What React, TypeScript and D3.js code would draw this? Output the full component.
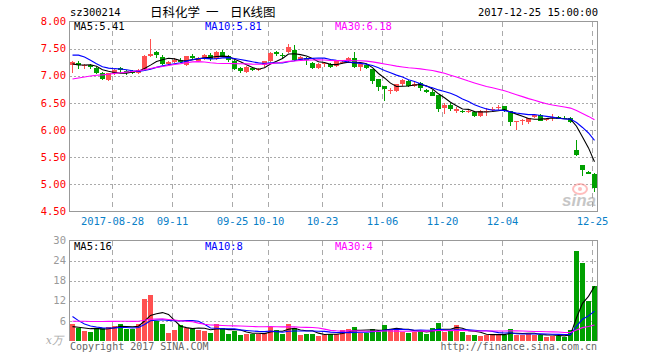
import React from 'react';
import * as d3 from 'd3';

const W = 660;
const H = 360;

const stockCode = 'sz300214';
const titleParts = ['日科化学', '一', '日K线图'];
const timestamp = '2017-12-25 15:00:00';

const firstDay = '2017-08-17';
const lastDay = '2017-12-25';
const holidays = ['2017-10-02', '2017-10-03', '2017-10-04', '2017-10-05', '2017-10-06'];
const tickDates = ['2017-08-28', '2017-09-11', '2017-09-25', '2017-10-10', '2017-10-23', '2017-11-06', '2017-11-20', '2017-12-04', '2017-12-25'];
const priceTicks = [8.0, 7.5, 7.0, 6.5, 6.0, 5.5, 5.0, 4.5];
const volumeTicks = [30, 24, 18, 12, 6];

const opens = [
  7.20, 7.23, 7.18, 7.19, 7.15, 7.05, 6.93, 7.06, 7.14, 7.08, 7.09, 7.06, 7.12, 7.36, 7.44, 7.35, 7.21, 7.25, 7.30, 7.19,
  7.37, 7.28, 7.31, 7.39, 7.31, 7.43, 7.36, 7.27, 7.14, 7.07, 7.14, 7.11, 7.19, 7.27, 7.43, 7.39, 7.44, 7.48, 7.30, 7.33,
  7.24, 7.15, 7.22, 7.21, 7.18, 7.24, 7.27, 7.32, 7.16, 7.20, 7.12, 6.94, 6.81, 6.72, 6.72, 6.84, 6.91, 6.82, 6.86, 6.73,
  6.71, 6.64, 6.41, 6.47, 6.36, 6.36, 6.34, 6.33, 6.26, 6.35, 6.37, 6.41, 6.44, 6.35, 6.15, 6.17, 6.14, 6.24, 6.28, 6.19,
  6.23, 6.25, 6.23, 6.23, 5.63, 5.35, 5.23, 5.20,
];
const highs = [
  7.27, 7.27, 7.22, 7.22, 7.17, 7.07, 7.06, 7.13, 7.16, 7.10, 7.10, 7.13, 7.38, 7.67, 7.46, 7.39, 7.28, 7.32, 7.32, 7.37,
  7.40, 7.34, 7.40, 7.42, 7.45, 7.47, 7.38, 7.29, 7.16, 7.18, 7.16, 7.15, 7.28, 7.44, 7.46, 7.42, 7.59, 7.56, 7.36, 7.35,
  7.25, 7.24, 7.26, 7.23, 7.28, 7.29, 7.35, 7.44, 7.23, 7.22, 7.13, 6.95, 6.82, 6.77, 6.85, 6.94, 6.92, 6.89, 6.88, 6.76,
  6.73, 6.65, 6.49, 6.49, 6.43, 6.37, 6.38, 6.36, 6.37, 6.41, 6.43, 6.47, 6.45, 6.36, 6.17, 6.21, 6.23, 6.29, 6.29, 6.23,
  6.29, 6.26, 6.26, 6.24, 5.81, 5.36, 5.25, 5.21,
];
const lows = [
  7.05, 7.13, 7.12, 7.13, 7.03, 6.92, 6.90, 7.02, 7.05, 7.02, 7.03, 7.04, 7.10, 7.34, 7.33, 7.20, 7.19, 7.23, 7.24, 7.18,
  7.29, 7.26, 7.29, 7.28, 7.30, 7.34, 7.26, 7.10, 7.05, 7.05, 7.08, 7.09, 7.17, 7.25, 7.37, 7.31, 7.42, 7.28, 7.28, 7.19,
  7.12, 7.13, 7.16, 7.15, 7.16, 7.22, 7.24, 7.14, 7.09, 7.13, 6.84, 6.72, 6.53, 6.67, 6.70, 6.82, 6.80, 6.79, 6.72, 6.68,
  6.62, 6.33, 6.30, 6.35, 6.32, 6.32, 6.31, 6.25, 6.25, 6.26, 6.34, 6.37, 6.34, 6.07, 6.01, 6.10, 6.12, 6.22, 6.16, 6.16,
  6.16, 6.20, 6.20, 6.13, 5.53, 5.15, 5.19, 4.86,
];
const closes = [
  7.25, 7.20, 7.20, 7.17, 7.05, 6.94, 7.05, 7.10, 7.10, 7.05, 7.06, 7.10, 7.36, 7.41, 7.38, 7.22, 7.25, 7.30, 7.26, 7.36,
  7.32, 7.32, 7.39, 7.31, 7.43, 7.36, 7.29, 7.13, 7.08, 7.16, 7.10, 7.13, 7.27, 7.42, 7.41, 7.37, 7.53, 7.30, 7.34, 7.29,
  7.14, 7.22, 7.23, 7.17, 7.27, 7.26, 7.33, 7.16, 7.21, 7.15, 6.90, 6.79, 6.75, 6.73, 6.84, 6.92, 6.82, 6.84, 6.78, 6.71,
  6.63, 6.38, 6.47, 6.38, 6.38, 6.33, 6.35, 6.26, 6.36, 6.36, 6.38, 6.42, 6.36, 6.15, 6.16, 6.18, 6.22, 6.28, 6.17, 6.20,
  6.24, 6.21, 6.22, 6.14, 5.54, 5.26, 5.20, 4.94,
];
const volumes = [
  5.2, 3.8, 3.1, 2.8, 4.0, 4.0, 4.3, 4.6, 5.2, 3.5, 3.5, 5.2, 12.4, 13.6, 6.0, 5.2, 2.5, 3.4, 4.9, 4.0,
  3.7, 3.4, 3.1, 2.5, 5.2, 4.0, 2.2, 3.1, 1.9, 2.2, 2.2, 2.2, 2.5, 4.3, 3.4, 2.2, 5.2, 3.8, 1.9, 2.2,
  2.2, 1.6, 1.9, 2.2, 2.2, 3.4, 3.7, 4.3, 2.5, 2.5, 3.7, 2.8, 4.9, 3.7, 3.7, 2.8, 2.5, 2.8, 3.1, 2.2,
  4.0, 5.5, 2.8, 3.1, 4.9, 2.8, 1.9, 1.9, 1.6, 1.9, 2.2, 1.9, 1.9, 3.7, 1.9, 1.9, 2.2, 1.9, 1.9, 1.3,
  1.6, 1.6, 1.3, 3.4, 26.8, 23.2, 11.9, 16.3,
];
// sessions before the visible window (estimated so the averages start where the picture shows)
const priorCloses = [
  6.66, 6.62, 6.65, 6.63, 6.68, 6.70, 6.66, 6.72, 6.74, 6.70, 6.72, 6.80,
  6.70, 6.72, 6.75, 6.70, 6.78, 6.80, 6.82, 6.85,
  7.20, 7.55, 7.75, 7.70, 7.50,
  7.30, 7.20, 7.15, 7.20,
];
const priorVolumes = [
  3.5, 4.2, 3.8, 4.5, 3.6, 4.0, 3.9, 4.4, 3.7, 4.1, 3.8, 4.3, 4.0, 4.2, 4.2,
  7.5, 9.0, 10.5, 8.8, 8.0,
  16, 13, 9, 7, 6.5,
  4.8, 4.2, 3.8, 3.5,
];

const RED = '#ff5050';
const GREEN = '#00a000';
const MA_COLORS = ['#000000', '#0000ff', '#ff00ff'];
const MA_PERIODS = [5, 10, 30];
const MONO = '"DejaVu Sans Mono", "Liberation Mono", monospace';

function tradingDays(start: string, end: string, skip: string[]) {
  const out: string[] = [];
  const d = new Date(start + 'T00:00:00Z');
  const e = new Date(end + 'T00:00:00Z');
  while (d <= e) {
    const s = d.toISOString().slice(0, 10);
    const wd = d.getUTCDay();
    if (wd !== 0 && wd !== 6 && !skip.includes(s)) out.push(s);
    d.setUTCDate(d.getUTCDate() + 1);
  }
  return out;
}

function movingAverage(prior: number[], values: number[], n: number) {
  const all = prior.concat(values);
  return values.map((_, i) => {
    const end = prior.length + i + 1;
    return d3.mean(all.slice(end - n, end)) as number;
  });
}

const dates = tradingDays(firstDay, lastDay, holidays);

export default function App() {
  const pL = 69.5, pR = 597.5, pT = 21.5, pB = 211.5;
  const vT = 240.5, vB = 341;

  const x = d3.scaleBand<string>().domain(dates).range([70, 597]).paddingInner(1 / 6).paddingOuter(0);
  const bw = x.bandwidth();
  const y = d3.scaleLinear().domain([4.5, 8]).range([pB, pT]);
  const vy = d3.scaleLinear().domain([0, 30]).range([vB, vT]);

  const priceMAs = MA_PERIODS.map((n) => movingAverage(priorCloses, closes, n));
  const volMAs = MA_PERIODS.map((n) => movingAverage(priorVolumes, volumes, n));

  const cx = (i: number) => (x(dates[i]) as number) + bw / 2;
  const priceLine = d3.line<number>().x((_, i) => cx(i)).y((v) => y(v));
  const volLine = d3.line<number>().x((_, i) => cx(i)).y((v) => vy(v));

  const trunc2 = (v: number) => (Math.floor(v * 100 + 1e-9) / 100).toFixed(2);
  const maLabelX = [74, 205, 335];
  const titleX = [150, 206, 230];

  const up = (i: number) => closes[i] >= opens[i];

  return (
    <svg width={W} height={H} style={{ display: 'block', position: 'absolute', left: 0, top: 0, background: '#fff' }}>
      <rect x={0} y={0} width={W} height={H} fill="#fff" />
      {/* header */}
      <text x={70} y={16} fontFamily={MONO} fontSize={10.5} fill="#000">{stockCode}</text>
      <text y={17} fontFamily='"Noto Sans CJK SC", sans-serif' fontSize={12.5} fill="#000">
        {titleParts.map((p, i) => (
          <tspan key={p} x={titleX[i]}>{p}</tspan>
        ))}
      </text>
      <text x={598} y={16} textAnchor="end" fontFamily={MONO} fontSize={10.5} fill="#000">{timestamp}</text>

      {/* price grid */}
      {priceTicks.slice(1, -1).map((t) => (
        <line key={'pg' + t} x1={pL} x2={pR} y1={Math.round(y(t)) + 0.5} y2={Math.round(y(t)) + 0.5}
          stroke="#aaa" strokeDasharray="2,2" shapeRendering="crispEdges" />
      ))}
      {tickDates.map((d) => (
        <line key={'pv' + d} x1={(x(d) as number) + 0.5} x2={(x(d) as number) + 0.5} y1={pT} y2={pB}
          stroke="#aaa" strokeDasharray="5,4" shapeRendering="crispEdges" />
      ))}
      {priceTicks.map((t) => (
        <text key={'pl' + t} x={66} y={y(t)} dy="0.35em" textAnchor="end" fontFamily={MONO} fontSize={10.5} fill="#f00">
          {t.toFixed(2)}
        </text>
      ))}

      {/* watermark */}
      <g opacity={0.55}>
        <ellipse cx={580} cy={189} rx={7} ry={5} fill="none" stroke="#f88" strokeWidth={2} />
        <circle cx={580} cy={189} r={2} fill="#f88" />
        <text x={596} y={206} textAnchor="end" fontFamily="Liberation Sans, Arial, sans-serif" fontSize={17}
          fontStyle="italic" fontWeight="bold" fill="#999">sina</text>
      </g>

      {/* candles */}
      {dates.map((d, i) => {
        const col = up(i) ? RED : GREEN;
        const left = x(d) as number;
        const top = y(Math.max(opens[i], closes[i]));
        const bot = y(Math.min(opens[i], closes[i]));
        return (
          <g key={'c' + d} shapeRendering="crispEdges">
            <line x1={left + 2.5} x2={left + 2.5} y1={y(highs[i])} y2={y(lows[i])} stroke={col} />
            <rect x={left} y={Math.round(top)} width={bw} height={Math.max(1, Math.round(bot) - Math.round(top))} fill={col} />
          </g>
        );
      })}
      {priceMAs.map((arr, k) => (
        <path key={'pma' + k} d={priceLine(arr) || ''} fill="none" stroke={MA_COLORS[k]} strokeWidth={1.1} />
      ))}

      {/* price frame */}
      <rect x={pL} y={pT} width={pR - pL} height={pB - pT} fill="none" stroke="#999" strokeWidth={1.2} shapeRendering="crispEdges" />
      {MA_PERIODS.map((n, k) => (
        <text key={'pmal' + n} x={maLabelX[k]} y={30} fontFamily={MONO} fontSize={10.5} fill={MA_COLORS[k]}>
          {`MA${n}:${trunc2(priceMAs[k][priceMAs[k].length - 1])}`}
        </text>
      ))}

      {/* x labels */}
      {tickDates.map((d, i) => (
        <text key={'xl' + d} x={(x(d) as number) + 0.5} y={225} textAnchor="middle" fontFamily={MONO} fontSize={10.5} fill="#0a80c8">
          {i === 0 ? d : d.slice(5)}
        </text>
      ))}

      {/* volume grid */}
      {volumeTicks.slice(1).map((t) => (
        <line key={'vg' + t} x1={pL} x2={pR} y1={Math.round(vy(t)) + 0.5} y2={Math.round(vy(t)) + 0.5}
          stroke="#aaa" strokeDasharray="2,2" shapeRendering="crispEdges" />
      ))}
      {tickDates.map((d) => (
        <line key={'vv' + d} x1={(x(d) as number) + 0.5} x2={(x(d) as number) + 0.5} y1={vT} y2={vB}
          stroke="#aaa" strokeDasharray="5,4" shapeRendering="crispEdges" />
      ))}
      {volumeTicks.map((t) => (
        <text key={'vl' + t} x={66} y={vy(t)} dy="0.35em" textAnchor="end" fontFamily={MONO} fontSize={10.5} fill="#999">
          {t}
        </text>
      ))}
      <text x={63} y={344} textAnchor="end" fontFamily="DejaVu Serif, serif" fontStyle="italic" fontSize={11} fill="#aaa">x万</text>

      {dates.map((d, i) => (
        <rect key={'v' + d} x={x(d) as number} y={vy(volumes[i])} width={bw} height={vy(0) - vy(volumes[i])}
          fill={up(i) ? RED : GREEN} shapeRendering="crispEdges" />
      ))}
      {volMAs.map((arr, k) => (
        <path key={'vma' + k} d={volLine(arr) || ''} fill="none" stroke={MA_COLORS[k]} strokeWidth={1.1} />
      ))}

      {/* volume frame (no bottom edge) */}
      <path d={`M${pL},${vB}V${vT}H${pR}V${vB}`} fill="none" stroke="#999" strokeWidth={1.2} shapeRendering="crispEdges" />
      {MA_PERIODS.map((n, k) => (
        <text key={'vmal' + n} x={maLabelX[k]} y={250} fontFamily={MONO} fontSize={10.5} fill={MA_COLORS[k]}>
          {`MA${n}:${Math.floor(volMAs[k][volMAs[k].length - 1])}`}
        </text>
      ))}

      {/* footer */}
      <text x={70} y={350} fontFamily={MONO} fontSize={10} fill="#666">Copyright 2017 SINA.COM</text>
      <text x={597} y={350} textAnchor="end" fontFamily={MONO} fontSize={10} fill="#666">http://finance.sina.com.cn</text>
    </svg>
  );
}
